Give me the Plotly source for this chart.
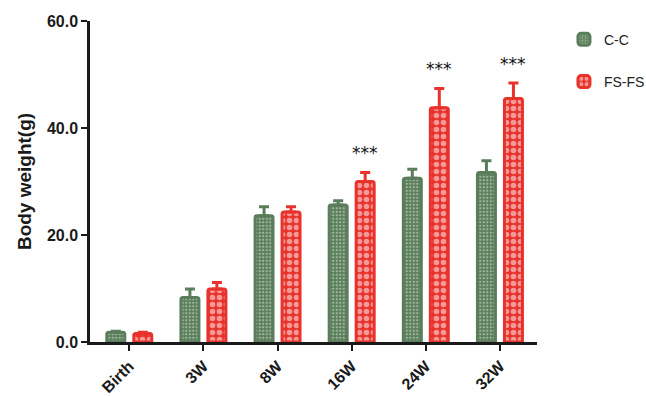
import plotly.graph_objects as go

# Body weight by age, two groups (mean + SD, upper bar only)
ages = ["Birth", "3W", "8W", "16W", "24W", "32W"]
cc_mean = [1.8, 8.3, 23.6, 25.6, 30.6, 31.7]
cc_sd = [0.2, 1.6, 1.7, 0.8, 1.7, 2.2]
fs_mean = [1.6, 9.9, 24.3, 30.0, 43.8, 45.5]
fs_sd = [0.2, 1.2, 1.0, 1.7, 3.6, 2.9]
sig_ages = ["16W", "24W", "32W"]
sig_text = "***"
y_ticks = [0, 20, 40, 60]

GREEN = "#5a7e5b"
RED = "#e8322c"
AXIS_FONT = "Liberation Sans"

fig = go.Figure()

fig.add_trace(go.Bar(
    name="C-C", x=ages, y=cc_mean,
    marker=dict(
        color=GREEN,
        line=dict(color=GREEN, width=3),
        pattern=dict(shape=".", fillmode="overlay", fgcolor="#e9efe6",
                     size=3.5, solidity=0.35),
        cornerradius=2,
    ),
    error_y=dict(type="data", array=cc_sd, arrayminus=[0] * len(cc_sd),
                 symmetric=False, color=GREEN, thickness=3, width=5),
    legendgroup="cc",
))

fig.add_trace(go.Bar(
    name="FS-FS", x=ages, y=fs_mean,
    marker=dict(
        color=RED,
        line=dict(color=RED, width=3),
        pattern=dict(shape=".", fillmode="overlay", fgcolor="#ffffff",
                     size=7, solidity=0.5),
        cornerradius=2,
    ),
    error_y=dict(type="data", array=fs_sd, arrayminus=[0] * len(fs_sd),
                 symmetric=False, color=RED, thickness=3, width=5),
    legendgroup="fs",
))

# significance stars above the FS-FS error bars
for age in sig_ages:
    i = ages.index(age)
    fig.add_annotation(
        x=age, y=fs_mean[i] + fs_sd[i], xref="x", yref="y",
        text=sig_text, showarrow=False, xshift=13.5, yshift=7,
        yanchor="bottom", font=dict(family="DejaVu Sans", size=17, color="#111"),
    )

fig.update_layout(
    width=646, height=396,
    margin=dict(l=90, r=109, t=21, b=54),
    paper_bgcolor="white", plot_bgcolor="white",
    barmode="group", bargap=0.272, bargroupgap=0.333,
    showlegend=True,
    legend=dict(
        xref="container", yref="container",
        x=0.873, y=0.94, xanchor="left", yanchor="top",
        font=dict(family="Liberation Sans", size=14, color="#222"),
        tracegroupgap=21, bgcolor="rgba(0,0,0,0)",
    ),
    font=dict(family=AXIS_FONT, color="#1a1a1a"),
)

fig.update_xaxes(
    range=[-0.53, 5.5], automargin=False,
    showline=True, linecolor="#1a1a1a", linewidth=2.5,
    ticks="outside", ticklen=6, tickwidth=2, tickcolor="#1a1a1a",
    tickangle=-45,
    tickfont=dict(family=AXIS_FONT, size=16, color="#1a1a1a", weight="bold"),
    showgrid=False, zeroline=False,
)

fig.update_yaxes(
    range=[0, 60], automargin=False,
    tickvals=y_ticks, tickformat=".1f",
    showline=True, linecolor="#1a1a1a", linewidth=2.5,
    ticks="outside", ticklen=6, tickwidth=2, tickcolor="#1a1a1a",
    tickfont=dict(family=AXIS_FONT, size=16, color="#1a1a1a", weight="bold"),
    title=dict(text="Body weight(g)",
               font=dict(family=AXIS_FONT, size=19, color="#1a1a1a", weight="bold"),
               standoff=11),
    showgrid=False, zeroline=False,
)

fig.write_html("out.html")
